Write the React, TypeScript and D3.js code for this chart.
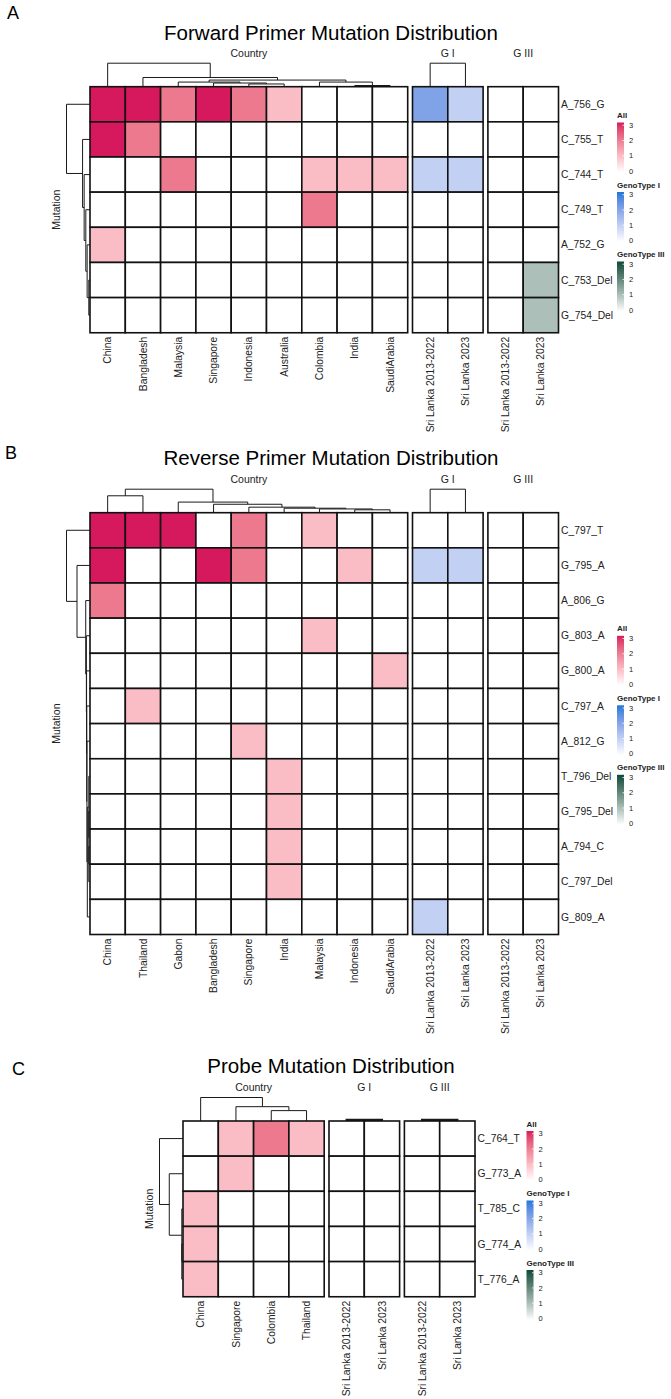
import React from 'react';
import * as d3 from 'd3';

type Tree = string | [number, Tree, Tree];

const lankaCols = ['Sri Lanka 2013-2022', 'Sri Lanka 2023'];

// ---- A: forward primer
const fwdTitle = 'Forward Primer Mutation Distribution';
const fwdMutations = ['A_756_G', 'C_755_T', 'C_744_T', 'C_749_T', 'A_752_G', 'C_753_Del', 'G_754_Del'];
const fwdCountries = ['China', 'Bangladesh', 'Malaysia', 'Singapore', 'Indonesia', 'Australia', 'Colombia', 'India', 'SaudiArabia'];
const fwdCountryValues = [
  [3, 3, 2, 3, 2, 1, 0, 0, 0],
  [3, 2, 0, 0, 0, 0, 0, 0, 0],
  [0, 0, 2, 0, 0, 0, 1, 1, 1],
  [0, 0, 0, 0, 0, 0, 2, 0, 0],
  [1, 0, 0, 0, 0, 0, 0, 0, 0],
  [0, 0, 0, 0, 0, 0, 0, 0, 0],
  [0, 0, 0, 0, 0, 0, 0, 0, 0],
];
const fwdG1Values = [[2, 1], [0, 0], [1, 1], [0, 0], [0, 0], [0, 0], [0, 0]];
const fwdG3Values = [[0, 0], [0, 0], [0, 0], [0, 0], [0, 0], [0, 1], [0, 1]];
const fwdRowTree: Tree = [24, 'A_756_G', [6.7, 'C_755_T', [5, 'C_744_T', [3.2, 'C_749_T', [1.8, 'A_752_G', [0, 'C_753_Del', 'G_754_Del']]]]]];
const fwdCountryTree: Tree = [23.4, 'China', [8.4, 'Bangladesh', [5.7,
  [3.6, 'Malaysia', [2.6, 'Singapore', [1.6, 'Indonesia', 'Australia']]],
  [3.6, 'Colombia', [0, 'India', 'SaudiArabia']]]]];
const fwdG1Tree: Tree = [23.4, lankaCols[0], lankaCols[1]];

// ---- B: reverse primer
const revTitle = 'Reverse Primer Mutation Distribution';
const revMutations = ['C_797_T', 'G_795_A', 'A_806_G', 'G_803_A', 'G_800_A', 'C_797_A', 'A_812_G', 'T_796_Del', 'G_795_Del', 'A_794_C', 'C_797_Del', 'G_809_A'];
const revCountries = ['China', 'Thailand', 'Gabon', 'Bangladesh', 'Singapore', 'India', 'Malaysia', 'Indonesia', 'SaudiArabia'];
const revCountryValues = [
  [3, 3, 3, 0, 2, 0, 1, 0, 0],
  [3, 0, 0, 3, 2, 0, 0, 1, 0],
  [2, 0, 0, 0, 0, 0, 0, 0, 0],
  [0, 0, 0, 0, 0, 0, 1, 0, 0],
  [0, 0, 0, 0, 0, 0, 0, 0, 1],
  [0, 1, 0, 0, 0, 0, 0, 0, 0],
  [0, 0, 0, 0, 1, 0, 0, 0, 0],
  [0, 0, 0, 0, 0, 1, 0, 0, 0],
  [0, 0, 0, 0, 0, 1, 0, 0, 0],
  [0, 0, 0, 0, 0, 1, 0, 0, 0],
  [0, 0, 0, 0, 0, 1, 0, 0, 0],
  [0, 0, 0, 0, 0, 0, 0, 0, 0],
];
const revG1Values = [[0, 0], [1, 1], [0, 0], [0, 0], [0, 0], [0, 0], [0, 0], [0, 0], [0, 0], [0, 0], [0, 0], [1, 0]];
const revG3Values = revMutations.map(() => [0, 0]);
const revIndiaGroup: Tree = [0, 'T_796_Del', [0, 'G_795_Del', [0, 'A_794_C', 'C_797_Del']]];
const revRowTree: Tree = [24, 'C_797_T', [12.7, 'G_795_A', [3.3, 'A_806_G', [2.6, 'G_803_A', [2.4, 'G_800_A',
  [2.2, 'C_797_A', [2.0, 'A_812_G', [1.6, revIndiaGroup, 'G_809_A']]]]]]]];
const revCountryTree: Tree = [23.7, [16.7, 'China', 'Thailand'], [10, 'Gabon', [7.7, 'Bangladesh', [4.6, 'Singapore',
  [3.5, 'India', [2.7, 'Malaysia', [1.8, 'Indonesia', 'SaudiArabia']]]]]]];
const revG1Tree: Tree = [23.7, lankaCols[0], lankaCols[1]];

// ---- C: probe
const probeTitle = 'Probe Mutation Distribution';
const probeMutations = ['C_764_T', 'G_773_A', 'T_785_C', 'G_774_A', 'T_776_A'];
const probeCountries = ['China', 'Singapore', 'Colombia', 'Thailand'];
const probeCountryValues = [
  [0, 1, 2, 1],
  [0, 1, 0, 0],
  [1, 0, 0, 0],
  [1, 0, 0, 0],
  [1, 0, 0, 0],
];
const probeG1Values = probeMutations.map(() => [0, 0]);
const probeG3Values = probeMutations.map(() => [0, 0]);
const probeRowTree: Tree = [24.4, 'C_764_T', [13.7, 'G_773_A', [0, 'T_785_C', [0, 'G_774_A', 'T_776_A']]]];
const probeCountryTree: Tree = [24.3, 'China', [14.3, 'Singapore', [10, 'Colombia', 'Thailand']]];
const probeG1Tree: Tree = [0, lankaCols[0], lankaCols[1]];
const probeG3Tree: Tree = [0, lankaCols[0], lankaCols[1]];

const legendTicks = [0, 1, 2, 3];

const FONT = "'Liberation Sans', Arial, Helvetica, sans-serif";
const COL_W = 35.3;
const ROW_H = 35.15;
const GAP = 4.8;
const DENDRO_PX = 23.5;

const allColor = d3.scaleLinear<string>().domain([0, 3]).range(['#ffffff', '#d6185c']).interpolate(d3.interpolateLab);
const g1Color = d3.scaleLinear<string>().domain([0, 3]).range(['#ffffff', '#1b78d8']).interpolate(d3.interpolateLab);
const g3Color = d3.scaleLinear<string>().domain([0, 3]).range(['#ffffff', '#0c4a3a']).interpolate(d3.interpolateLab);

const legendDefs = [
  { title: 'All', color: allColor },
  { title: 'GenoType I', color: g1Color },
  { title: 'GenoType III', color: g3Color },
];

function dendroPaths(tree: Tree, leafPos: (n: string) => number, maxH: number,
  toXY: (pos: number, off: number) => [number, number]) {
  const root = d3.hierarchy<Tree>(tree, (d) => (typeof d === 'string' ? null : [d[1], d[2]]));
  const off = d3.scaleLinear().domain([0, maxH]).range([1.2, DENDRO_PX]);
  const pos = new Map<any, number>();
  const hgt = new Map<any, number>();
  root.eachAfter((n) => {
    if (typeof n.data === 'string') {
      pos.set(n, leafPos(n.data));
      hgt.set(n, 0);
    } else {
      const [a, b] = n.children!;
      pos.set(n, (pos.get(a)! + pos.get(b)!) / 2);
      hgt.set(n, off(n.data[0]));
    }
  });
  const out: string[] = [];
  root.each((n) => {
    if (!n.children) return;
    const [a, b] = n.children;
    const h = hgt.get(n)!;
    const pts = [toXY(pos.get(a)!, hgt.get(a)!), toXY(pos.get(a)!, h), toXY(pos.get(b)!, h), toXY(pos.get(b)!, hgt.get(b)!)];
    out.push(d3.line()(pts)!);
  });
  return out;
}

interface Slice { name: string; cols: string[]; values: number[][]; color: d3.ScaleLinear<string, string>; tree: Tree | null }
interface PanelCfg {
  letter: string; letterX: number; letterY: number; title: string; titleY: number;
  top: number; left: number; rows: string[]; rowTree: Tree; slices: Slice[];
  legendX: number; legendTop: number;
}

function Panel({ cfg }: { cfg: PanelCfg }) {
  const { top, left, rows, slices } = cfg;
  const bottom = top + rows.length * ROW_H;
  const y = d3.scaleBand().domain(rows).range([top, bottom]);
  let x0 = left;
  const xs = slices.map((s) => {
    const sc = d3.scaleBand().domain(s.cols).range([x0, x0 + s.cols.length * COL_W]);
    x0 += s.cols.length * COL_W + GAP;
    return sc;
  });
  const right = x0 - GAP;
  const colMax = d3.max(slices, (s) => (s.tree && typeof s.tree !== 'string' ? s.tree[0] : 0))!;
  const rowMax = typeof cfg.rowTree === 'string' ? 1 : cfg.rowTree[0];
  const rowPaths = dendroPaths(cfg.rowTree, (n) => y(n)! + y.bandwidth() / 2, rowMax, (p, o) => [left - o, p]);
  const midY = (top + bottom) / 2;
  const tickY = (T: number) => d3.scaleLinear().domain([0, 3]).range([T + 53, T + 7.2]);

  return (
    <g fontFamily={FONT}>
      <text x={cfg.letterX} y={cfg.letterY} fontSize={18}>{cfg.letter}</text>
      <text x={331} y={cfg.titleY} fontSize={20.5} textAnchor="middle">{cfg.title}</text>
      {slices.map((s, i) => {
        const sc = xs[i];
        const cx = (sc.range()[0] + sc.range()[1]) / 2;
        const flat = !!s.tree && typeof s.tree !== 'string' && s.tree[0] === 0;
        const paths = s.tree
          ? dendroPaths(s.tree, (n) => sc(n)! + sc.bandwidth() / 2, colMax, (p, o) => [p, top - o])
          : [];
        return (
          <g key={s.name}>
            <text x={cx} y={top - 30} fontSize={10.5} textAnchor="middle" fill="#222">{s.name}</text>
            {paths.map((d, k) => (
              <path key={k} d={d} fill="none" stroke="#1a1a1a" strokeWidth={flat ? 2.2 : 1} />
            ))}
            {rows.map((r, ri) =>
              s.cols.map((c, ci) => (
                <rect key={r + c} x={sc(c)} y={y(r)} width={sc.bandwidth()} height={y.bandwidth()}
                  fill={s.color(s.values[ri][ci])} stroke="#111" strokeWidth={1.6} />
              ))
            )}
            {s.cols.map((c) => (
              <text key={c} transform={`translate(${sc(c)! + sc.bandwidth() / 2},${bottom + 4}) rotate(-90)`}
                textAnchor="end" dy="0.35em" fontSize={10.3} fill="#222">{c}</text>
            ))}
          </g>
        );
      })}
      {rowPaths.map((d, k) => (
        <path key={k} d={d} fill="none" stroke="#1a1a1a" strokeWidth={1} />
      ))}
      <text transform={`translate(${left - 34},${midY}) rotate(-90)`} textAnchor="middle" dy="0.35em" fontSize={10.5} fill="#222">
        Mutation
      </text>
      {rows.map((r) => (
        <text key={r} x={right + 2.5} y={y(r)! + y.bandwidth() / 2} dy="0.35em" fontSize={10.3} fill="#222">{r}</text>
      ))}
      <defs>
        {legendDefs.map((l, i) => (
          <linearGradient key={i} id={`grad-${cfg.letter}-${i}`} x1="0" y1="1" x2="0" y2="0">
            {d3.range(0, 3.01, 0.25).map((v) => (
              <stop key={v} offset={v / 3} stopColor={l.color(v)} />
            ))}
          </linearGradient>
        ))}
      </defs>
      {legendDefs.map((l, i) => {
        const T = cfg.legendTop + i * 69.5;
        const ty = tickY(T);
        return (
          <g key={l.title}>
            <text x={cfg.legendX} y={T} fontSize={8} fontWeight="bold" fill="#222">{l.title}</text>
            <rect x={cfg.legendX} y={T + 4.5} width={7} height={50} fill={`url(#grad-${cfg.letter}-${i})`} />
            {legendTicks.map((v) => (
              <g key={v}>
                <line x1={cfg.legendX + 5.5} x2={cfg.legendX + 7} y1={ty(v)} y2={ty(v)} stroke="#fff" strokeWidth={0.8} />
                <text x={cfg.legendX + 12} y={ty(v)} dy="0.35em" fontSize={7.5} fill="#222">{v}</text>
              </g>
            ))}
          </g>
        );
      })}
    </g>
  );
}

const panels: PanelCfg[] = [
  {
    letter: 'A', letterX: 7, letterY: 18.5, title: fwdTitle, titleY: 39.5,
    top: 86.7, left: 90, rows: fwdMutations, rowTree: fwdRowTree,
    slices: [
      { name: 'Country', cols: fwdCountries, values: fwdCountryValues, color: allColor, tree: fwdCountryTree },
      { name: 'G I', cols: lankaCols, values: fwdG1Values, color: g1Color, tree: fwdG1Tree },
      { name: 'G III', cols: lankaCols, values: fwdG3Values, color: g3Color, tree: null },
    ],
    legendX: 617, legendTop: 118,
  },
  {
    letter: 'B', letterX: 5, letterY: 458.5, title: revTitle, titleY: 465,
    top: 512.7, left: 90, rows: revMutations, rowTree: revRowTree,
    slices: [
      { name: 'Country', cols: revCountries, values: revCountryValues, color: allColor, tree: revCountryTree },
      { name: 'G I', cols: lankaCols, values: revG1Values, color: g1Color, tree: revG1Tree },
      { name: 'G III', cols: lankaCols, values: revG3Values, color: g3Color, tree: null },
    ],
    legendX: 617, legendTop: 631.3,
  },
  {
    letter: 'C', letterX: 12, letterY: 1075, title: probeTitle, titleY: 1073.3,
    top: 1121, left: 183, rows: probeMutations, rowTree: probeRowTree,
    slices: [
      { name: 'Country', cols: probeCountries, values: probeCountryValues, color: allColor, tree: probeCountryTree },
      { name: 'G I', cols: lankaCols, values: probeG1Values, color: g1Color, tree: probeG1Tree },
      { name: 'G III', cols: lankaCols, values: probeG3Values, color: g3Color, tree: probeG3Tree },
    ],
    legendX: 526.5, legendTop: 1126.5,
  },
];

export default function App() {
  return (
    <svg width={671} height={1399} style={{ position: 'absolute', left: 0, top: 0, background: '#fff' }}>
      {panels.map((p) => (
        <Panel key={p.letter} cfg={p} />
      ))}
    </svg>
  );
}
